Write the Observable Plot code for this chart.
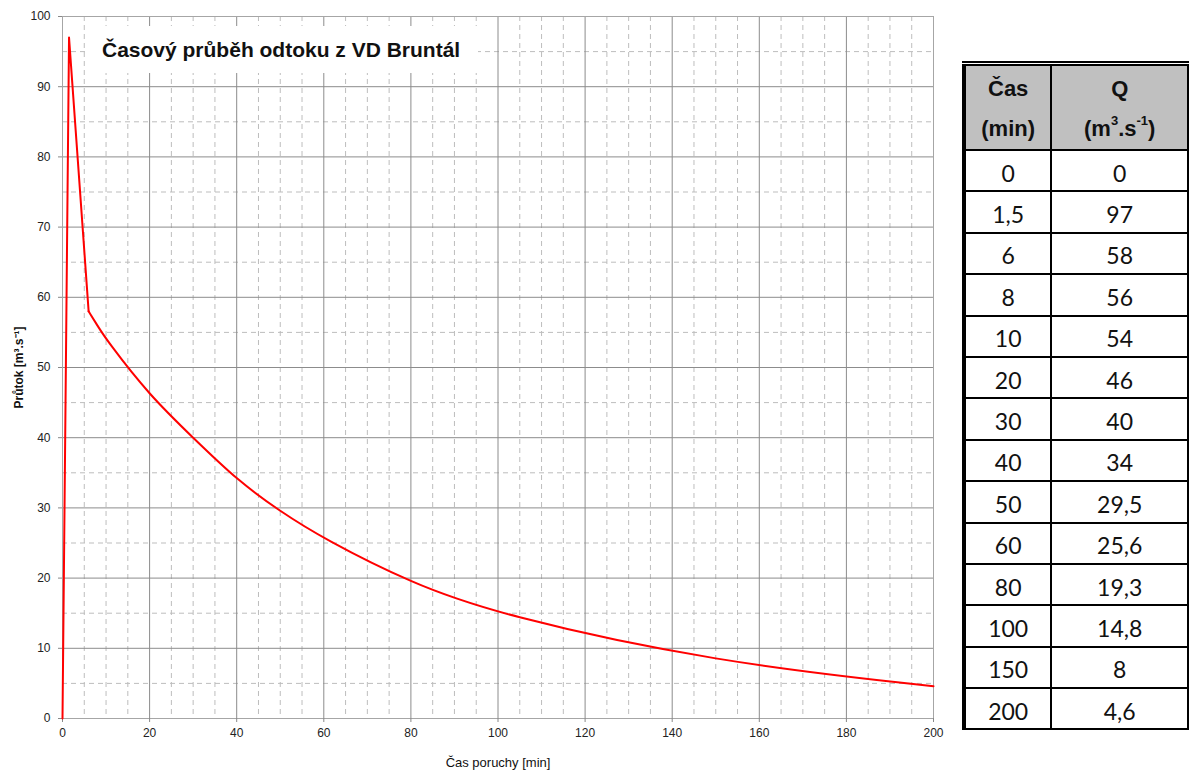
<!DOCTYPE html>
<html>
<head>
<meta charset="utf-8">
<script src="https://cdn.jsdelivr.net/npm/d3@7"></script>
<script src="https://cdn.jsdelivr.net/npm/@observablehq/plot@0.6"></script>
<style>
  body { margin: 0; background: #fff; width: 1189px; height: 773px; position: relative; overflow: hidden;
         font-family: "Liberation Sans", Arial, sans-serif; }
  #chart { position: absolute; left: 0; top: 0; }
  #title { position: absolute; left: 88px; top: 26px; width: 390px; height: 47px; background: #fff;
           font: bold 21px "Liberation Sans", Arial, sans-serif; line-height: 47px; padding-left: 14px;
           box-sizing: border-box; color: #111; white-space: nowrap; z-index: 2; }
  #chart g[aria-label="y-axis label"] text { font-weight: bold; font-size: 12px; fill: #111; }
  #chart g[aria-label="x-axis label"] text { font-size: 13px; fill: #111; }
  #tbl { position: absolute; left: 962px; top: 61px; border-collapse: collapse; z-index: 2; }
  #tbl td { border: 2px solid #000; text-align: center; padding: 0; color: #111; }
  #tbl tr.h td { background: #c0c0c0; font: bold 22px "Liberation Sans", Arial, sans-serif; }
  #tbl tr.h1 td { height: 38px; border-top: 5px double #000; border-bottom: none; padding-top: 4px; }
  #tbl tr.h2 td { height: 41px; border-top: none; }
  #tbl tr.d td { height: 35.4px; font: 23px Lato, "Open Sans", sans-serif; padding-top: 4px; }
  #tbl td.c1 { width: 87px; border-left: 4px solid #000; }
  #tbl td.c2 { width: 140px; }
  #tbl sup { font-size: 13px; position: relative; top: -3px; vertical-align: top; }
</style>
</head>
<body>
<div id="chart"></div>
<div id="title">Časový průběh odtoku z VD Bruntál</div>
<script>
// Data (table + curve)
const time = [0, 1.5, 6, 8, 10, 20, 30, 40, 50, 60, 80, 100, 150, 200];
const flow = [0, 97, 58, 56, 54, 46, 40, 34, 29.5, 25.6, 19.3, 14.8, 8, 4.6];
const timeLabels = ["0", "1,5", "6", "8", "10", "20", "30", "40", "50", "60", "80", "100", "150", "200"];
const flowLabels = ["0", "97", "58", "56", "54", "46", "40", "34", "29,5", "25,6", "19,3", "14,8", "8", "4,6"];
const xTicks = [0, 20, 40, 60, 80, 100, 120, 140, 160, 180, 200];
const yTicks = [0, 10, 20, 30, 40, 50, 60, 70, 80, 90, 100];
const xMinor = [5, 10, 15, 25, 30, 35, 45, 50, 55, 65, 70, 75, 85, 90, 95, 105, 110, 115, 125, 130, 135, 145, 150, 155, 165, 170, 175, 185, 190, 195];
const yMinor = [5, 15, 25, 35, 45, 55, 65, 75, 85, 95];

const rows = time.map((t, i) => ({t, q: flow[i]}));
const rise = rows.slice(0, 3);
const decay = rows.slice(2);

const chart = Plot.plot({
  width: 950,
  height: 773,
  marginLeft: 62,
  marginTop: 16,
  marginRight: 17,
  marginBottom: 55,
  x: {domain: [0, 200]},
  y: {domain: [0, 100]},
  style: {fontFamily: '"Liberation Sans", Arial, sans-serif', fontSize: "12px", color: "#222", background: "#fff"},
  marks: [
    Plot.gridX(xMinor, {stroke: "#bdbdbd", strokeOpacity: 1, strokeDasharray: "5,4"}),
    Plot.gridY(yMinor, {stroke: "#bdbdbd", strokeOpacity: 1, strokeDasharray: "5,4"}),
    Plot.gridX(xTicks.slice(1, -1), {stroke: "#8c8c8c", strokeOpacity: 1}),
    Plot.gridY(yTicks.slice(1, -1), {stroke: "#8c8c8c", strokeOpacity: 1}),
    Plot.frame({stroke: "#a6a6a6"}),
    Plot.axisX(xTicks, {tickSize: 4, tickPadding: 6, stroke: "#888", label: "Čas poruchy [min]",
      labelAnchor: "center", labelArrow: "none", labelOffset: 48}),
    Plot.axisY(yTicks, {tickSize: 4, tickPadding: 8, stroke: "#888", label: "Průtok [m³.s⁻¹]",
      labelAnchor: "center", labelArrow: "none", labelOffset: 48}),
    Plot.line(rise, {x: "t", y: "q", stroke: "#ff0000", strokeWidth: 2}),
    Plot.line(decay, {x: "t", y: "q", stroke: "#ff0000", strokeWidth: 2, curve: "basis"})
  ]
});
document.getElementById("chart").append(chart);

// Data table
const tbl = d3.select("body").append("table").attr("id", "tbl");
const h1 = tbl.append("tr").attr("class", "h h1");
h1.append("td").attr("class", "c1").text("Čas");
h1.append("td").attr("class", "c2").text("Q");
const h2 = tbl.append("tr").attr("class", "h h2");
h2.append("td").attr("class", "c1").text("(min)");
h2.append("td").attr("class", "c2").html("(m<sup>3</sup>.s<sup>-1</sup>)");
timeLabels.forEach((t, i) => {
  const r = tbl.append("tr").attr("class", "d");
  r.append("td").attr("class", "c1").text(t);
  r.append("td").attr("class", "c2").text(flowLabels[i]);
});
</script>
</body>
</html>
